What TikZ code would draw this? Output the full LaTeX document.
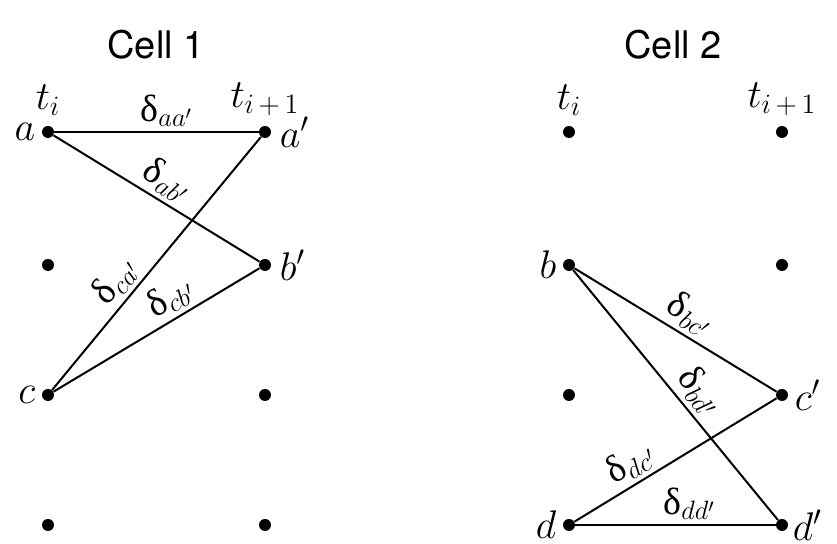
\RequirePackage{fix-cm}
\documentclass[tikz,border=0pt]{standalone}
\usepackage{fontspec}
\newfontfamily\titlefont{TeX Gyre Heros}
\newfontfamily\dltfont{Liberation Serif}
\newcommand\dlt{\mbox{\dltfont δ}}
\usetikzlibrary{positioning}

\begin{document}
\begin{tikzpicture}[
x=0.5pt,y=0.5pt,
dot/.style={circle,fill,inner sep=0pt,minimum size=6pt},
pt/.style={font=\fontsize{20}{22}\selectfont,inner sep=1pt},
lbl/.style={font=\fontsize{19}{21}\selectfont,sloped,above,inner sep=2pt},
title/.style={font=\titlefont\fontsize{19}{22}\selectfont},
link/.style={line width=1pt}
]
\useasboundingbox (0,0) rectangle (837,544);
% grid of dots, two columns per cell
\foreach \cell/\xl/\xr in {1/48/265,2/569/782}{
  \foreach \row/\y in {1/412,2/279,3/149,4/19}{
    \node[dot] (l\cell\row) at (\xl,\y) {};
    \node[dot] (r\cell\row) at (\xr,\y) {};
  }
}
\node[title] (cell1) at (156,499) {Cell 1};
\node[title] (cell2) at (673,499) {Cell 2};
% time labels
\node[pt,above=4pt of l11] (ti1) {$t_i$};
\node[pt,above=4pt of r11] (tn1) {$t_{i\,+\,1}$};
\node[pt,above=4pt of l21] (ti2) {$t_i$};
\node[pt,above=4pt of r21] (tn2) {$t_{i\,+\,1}$};
% point labels
\node[pt,left=2pt of l11] (a) {$a$};
\node[pt,right=3pt of r11] (ap) {$a'$};
\node[pt,right=3pt of r12] (bp) {$b'$};
\node[pt,left=2pt of l13] (c) {$c$};
\node[pt,left=2pt of l22] (b) {$b$};
\node[pt,right=2pt of r23] (cp) {$c'$};
\node[pt,left=2pt of l24] (d) {$d$};
\node[pt,right=1pt of r24] (dp) {$d'$};
% cell 1
\draw[link] (l11) -- node[lbl,pos=0.55]{$\dlt_{aa'}$} (r11);
\draw[link] (l11) -- node[lbl,pos=0.5]{$\dlt_{ab'}$} (r12);
\draw[link] (l13) -- node[lbl,pos=0.38]{$\dlt_{ca'}$} (r11);
\draw[link] (l13) -- node[lbl,pos=0.62]{$\dlt_{cb'}$} (r12);
% cell 2
\draw[link] (l22) -- node[lbl,pos=0.52]{$\dlt_{bc'}$} (r23);
\draw[link] (l22) -- node[lbl,pos=0.54]{$\dlt_{bd'}$} (r24);
\draw[link] (l24) -- node[lbl,pos=0.33]{$\dlt_{dc'}$} (r23);
\draw[link] (l24) -- node[lbl,pos=0.57]{$\dlt_{dd'}$} (r24);
\end{tikzpicture}
\end{document}
